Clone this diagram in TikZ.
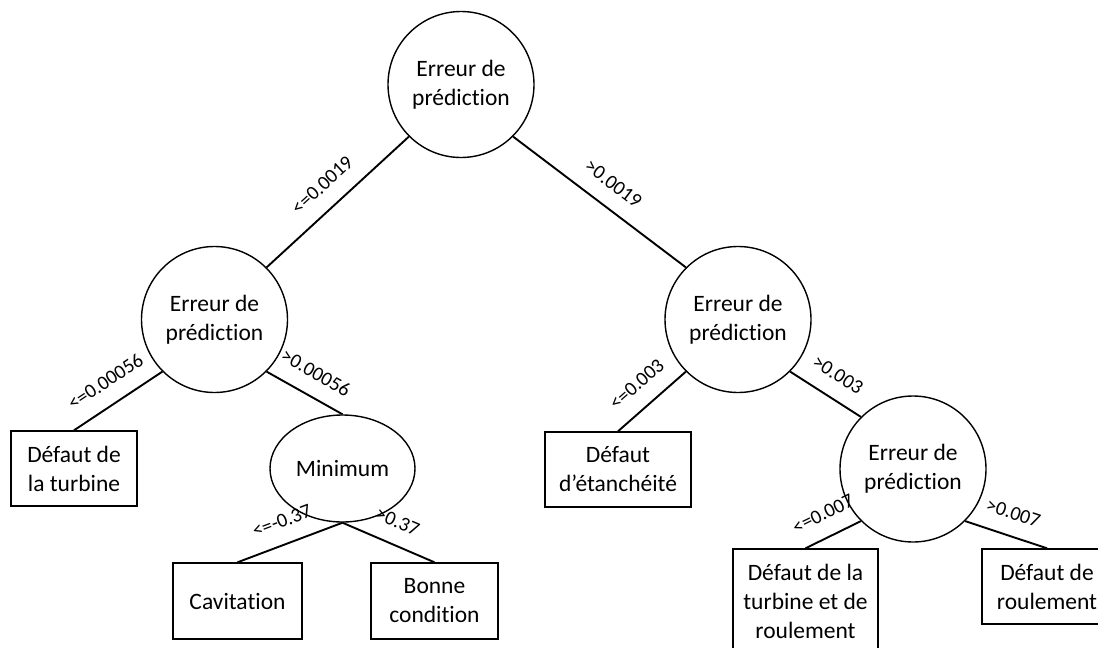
\documentclass[tikz,border=0pt]{standalone}
\usepackage{fontspec}
\setmainfont{Carlito}[Ligatures=NoCommon]
\usetikzlibrary{shapes.geometric}
\begin{document}
\begin{tikzpicture}[x=1pt,y=-1pt,
  every node/.style={font=\fontsize{23.5}{29}\selectfont, align=center},
  cnode/.style={draw, circle, line width=1.4pt, minimum size=146pt, inner sep=0pt},
  enode/.style={draw, ellipse, line width=1.4pt, minimum width=145pt, minimum height=107pt, inner sep=0pt},
  bnode/.style={draw, rectangle, line width=1.4pt, inner sep=0pt},
  edge/.style={line width=1.9pt},
  lab/.style={font=\fontsize{20}{22}\selectfont, inner sep=0pt, sloped, above=15.5pt}
]
\path[use as bounding box] (0,0) rectangle (1098,648);
\clip (0,0) rectangle (1098,648);

\node[cnode] (r) at (461,84.5) {Erreur de\\prédiction};
\node[cnode] (a) at (214.5,319.5) {Erreur de\\prédiction};
\node[cnode] (b) at (738,319.5) {Erreur de\\prédiction};
\node[cnode] (c) at (913,469) {Erreur de\\prédiction};
\node[enode] (m) at (342.5,468.5) {Minimum};

\node[bnode, minimum width=126pt, minimum height=75pt] (t1) at (74,468.5) {Défaut de\\la turbine};
\node[bnode, minimum width=129pt, minimum height=76pt] (cav) at (237.5,601) {Cavitation};
\node[bnode, minimum width=127pt, minimum height=76pt] (bon) at (434.5,601) {Bonne\\condition};
\node[bnode, minimum width=146pt, minimum height=75pt] (eta) at (618,469.5) {Défaut\\d’étanchéité};
\node[bnode, minimum width=145pt, minimum height=104pt] (tr) at (805.5,601) {Défaut de la\\turbine et de\\roulement};
\node[bnode, minimum width=130pt, minimum height=75pt] (rou) at (1047,586.5) {Défaut de\\roulement};

\draw[edge] (r.south west) -- node[lab] {<=0.0019} (a.north east);
\draw[edge] (r.south east) -- node[lab] {>0.0019} (b.north west);
\draw[edge] (a.south west) -- node[lab] {<=0.00056} (t1.north);
\draw[edge] (a.south east) -- node[lab] {>0.00056} (m.north);
\draw[edge] (m.south) -- node[lab] {<=-0.37} (cav.north);
\draw[edge] (m.south) -- node[lab] {>0.37} (bon.north);
\draw[edge] (b.south west) -- node[lab] {<=0.003} (eta.north);
\draw[edge] (b.south east) -- node[lab] {>0.003} (c.north west);
\draw[edge] (c.south west) -- node[lab] {<=0.007} (tr.north);
\draw[edge] (c.south east) -- node[lab] {>0.007} (rou.north);
\end{tikzpicture}
\end{document}
